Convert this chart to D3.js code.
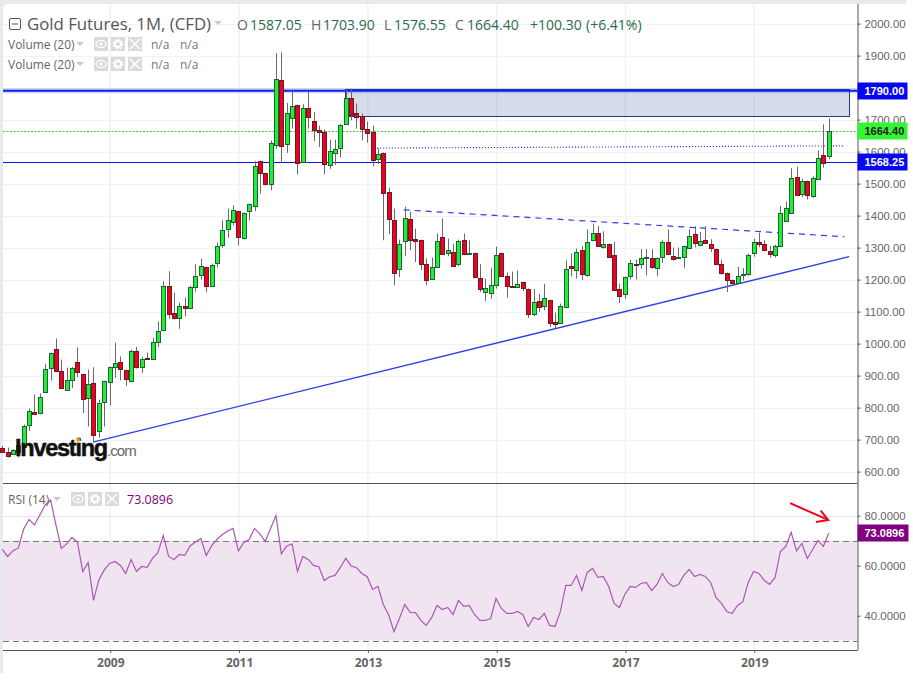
<!DOCTYPE html>
<html>
<head>
<meta charset="utf-8">
<script src="https://cdnjs.cloudflare.com/ajax/libs/d3/7.8.5/d3.min.js"></script>
<style>
  html, body { margin: 0; background: #fff; }
  svg { display: block; }
  .price-axis text, .rsi-axis text { font: 11.4px "Liberation Sans", Arial, sans-serif; fill: #666; }
  .time-axis text { font: bold 12px "Open Sans", sans-serif; fill: #666; }
  .price-axis path, .price-axis line, .rsi-axis path, .rsi-axis line, .time-axis path, .time-axis line { stroke: #555; }
  .legend { font-family: "Open Sans", sans-serif; }
</style>
</head>
<body>
<svg id="chart" width="913" height="681"></svg>
<script>
// monthly candles, first one is May 2007 (month 4, counted from Jan 2007)
const firstMonth = 4;
const opens = [
  675, 662, 656, 661, 677, 746, 785, 783, 849, 925,
  984, 914, 855, 887, 944, 906, 831, 878, 728, 819,
  881, 928, 944, 919, 884, 978, 928, 954, 953, 1006,
  1044, 1181, 1097, 1081, 1119, 1112, 1178, 1215, 1240, 1181,
  1253, 1309, 1358, 1383, 1415, 1331, 1414, 1431, 1572, 1534,
  1499, 1622, 1825, 1625, 1706, 1747, 1567, 1737, 1697, 1668,
  1661, 1558, 1596, 1611, 1687, 1766, 1722, 1712, 1672, 1661,
  1577, 1597, 1475, 1387, 1234, 1322, 1390, 1328, 1325, 1250,
  1202, 1240, 1334, 1284, 1287, 1250, 1325, 1283, 1284, 1206,
  1164, 1159, 1184, 1284, 1212, 1181, 1178, 1191, 1172, 1094,
  1134, 1115, 1137, 1066, 1062, 1116, 1241, 1231, 1291, 1216,
  1325, 1347, 1303, 1312, 1278, 1172, 1156, 1212, 1248, 1247,
  1269, 1269, 1234, 1269, 1319, 1275, 1270, 1272, 1300, 1344,
  1309, 1325, 1312, 1297, 1249, 1222, 1200, 1190, 1216, 1219,
  1284, 1319, 1312, 1290, 1278, 1306, 1384, 1409, 1522, 1469,
  1509, 1462, 1516, 1590, 1587.05
];
const highs = [
  680, 675, 670, 685, 747, 797, 841, 844, 937, 972,
  1016, 950, 925, 927, 988, 906, 919, 926, 825, 884,
  928, 1003, 960, 919, 981, 990, 959, 972, 1019, 1069,
  1195, 1226, 1159, 1128, 1144, 1181, 1248, 1265, 1240, 1250,
  1316, 1385, 1422, 1432, 1415, 1409, 1437, 1571, 1572, 1534,
  1635, 1908, 1910, 1752, 1795, 1747, 1748, 1788, 1723, 1681,
  1669, 1637, 1637, 1687, 1797, 1797, 1750, 1719, 1694, 1681,
  1611, 1597, 1487, 1422, 1325, 1428, 1412, 1359, 1325, 1266,
  1269, 1344, 1391, 1328, 1312, 1325, 1344, 1323, 1284, 1248,
  1203, 1237, 1303, 1284, 1222, 1225, 1228, 1194, 1172, 1170,
  1156, 1187, 1137, 1097, 1125, 1260, 1282, 1297, 1305, 1357,
  1375, 1367, 1351, 1312, 1318, 1187, 1209, 1262, 1262, 1295,
  1295, 1295, 1269, 1323, 1357, 1300, 1300, 1306, 1357, 1367,
  1349, 1367, 1326, 1297, 1263, 1222, 1200, 1240, 1236, 1281,
  1328, 1347, 1323, 1306, 1309, 1431, 1444, 1548, 1553, 1515,
  1509, 1523, 1604, 1685, 1703.9
];
const lows = [
  660, 644, 652, 645, 677, 727, 780, 779, 849, 885,
  915, 859, 852, 861, 896, 783, 741, 692, 706, 741,
  807, 893, 885, 868, 884, 922, 908, 952, 953, 989,
  1044, 1078, 1075, 1046, 1085, 1112, 1162, 1200, 1161, 1178,
  1238, 1300, 1331, 1370, 1307, 1325, 1385, 1414, 1469, 1494,
  1479, 1609, 1565, 1596, 1672, 1528, 1567, 1672, 1633, 1614,
  1529, 1546, 1558, 1582, 1687, 1698, 1672, 1635, 1628, 1554,
  1561, 1323, 1342, 1182, 1208, 1273, 1292, 1255, 1229, 1182,
  1202, 1240, 1281, 1273, 1244, 1242, 1281, 1281, 1206, 1161,
  1133, 1140, 1172, 1212, 1144, 1179, 1175, 1164, 1080, 1086,
  1099, 1104, 1052, 1049, 1062, 1116, 1210, 1203, 1199, 1209,
  1319, 1303, 1297, 1269, 1169, 1127, 1140, 1200, 1200, 1234,
  1213, 1234, 1211, 1252, 1278, 1260, 1268, 1236, 1300, 1301,
  1305, 1313, 1286, 1245, 1216, 1161, 1184, 1187, 1197, 1212,
  1272, 1301, 1291, 1269, 1269, 1306, 1384, 1409, 1465, 1458,
  1450, 1456, 1516, 1550, 1576.55
];
const closes = [
  662, 649, 668, 682, 743, 790, 780, 834, 922, 972,
  915, 862, 887, 924, 912, 828, 875, 715, 815, 884,
  928, 940, 922, 890, 978, 928, 953, 952, 1006, 1040,
  1181, 1094, 1081, 1119, 1112, 1178, 1212, 1244, 1181, 1247,
  1306, 1356, 1385, 1419, 1333, 1409, 1437, 1556, 1534, 1499,
  1628, 1828, 1618, 1722, 1744, 1565, 1737, 1708, 1668, 1661,
  1561, 1603, 1609, 1684, 1769, 1714, 1709, 1672, 1659, 1574,
  1594, 1472, 1390, 1222, 1312, 1394, 1325, 1322, 1250, 1200,
  1240, 1322, 1281, 1294, 1244, 1322, 1281, 1284, 1209, 1172,
  1175, 1184, 1278, 1212, 1181, 1179, 1187, 1172, 1093, 1130,
  1115, 1141, 1066, 1059, 1116, 1234, 1234, 1287, 1216, 1319,
  1347, 1306, 1312, 1272, 1169, 1150, 1209, 1253, 1247, 1266,
  1272, 1240, 1266, 1316, 1281, 1265, 1272, 1306, 1337, 1316,
  1322, 1316, 1300, 1249, 1222, 1200, 1190, 1212, 1219, 1278,
  1319, 1312, 1294, 1281, 1306, 1409, 1425, 1519, 1465, 1509,
  1465, 1519, 1581, 1564.1, 1664.4
];
const rsiValues = [
  66.5, 63.7, 66.0, 67.1, 74.7, 78.5, 76.3, 80.3, 84.3, 86.3,
  76.3, 66.9, 68.7, 71.3, 69.5, 57.7, 61.3, 46.1, 54.3, 58.3,
  60.9, 61.7, 60.1, 56.9, 62.5, 57.7, 59.7, 59.3, 62.9, 65.2,
  72.1, 63.7, 62.5, 64.5, 64.1, 67.9, 69.5, 70.9, 64.1, 67.9,
  70.5, 72.5, 73.9, 74.9, 65.9, 69.3, 70.5, 74.9, 72.7, 69.7,
  74.9, 80.1, 64.7, 67.9, 68.7, 57.7, 63.7, 62.5, 60.1, 59.6,
  54.1, 55.6, 56.1, 59.3, 62.9, 59.9, 59.2, 56.9, 55.6, 50.5,
  51.7, 44.5, 40.3, 33.6, 38.9, 44.5, 41.3, 41.2, 38.1, 36.1,
  39.2, 44.1, 42.5, 43.3, 40.5, 46.1, 43.7, 44.1, 40.5, 38.1,
  38.1, 38.9, 46.9, 42.9, 40.9, 40.9, 41.7, 40.5, 35.7, 39.3,
  38.5, 40.9, 36.1, 35.7, 41.7, 52.1, 52.1, 56.1, 50.1, 57.3,
  58.9, 55.3, 55.7, 51.7, 44.9, 43.3, 48.5, 51.7, 51.3, 52.9,
  53.3, 50.1, 52.5, 56.9, 53.3, 51.7, 52.5, 56.1, 58.5, 55.7,
  56.5, 55.7, 53.3, 47.3, 44.9, 41.7, 40.9, 44.1, 45.6, 53.3,
  57.7, 56.9, 54.1, 52.5, 55.3, 65.7, 67.7, 73.3, 65.9, 68.9,
  62.9, 66.5, 70.1, 67.7, 73.0896
];

const priceTicks = [2000, 1900, 1700, 1600, 1500, 1400, 1300, 1200, 1100, 1000, 900, 800, 700, 600];
const priceGrid = [2000, 1900, 1800, 1700, 1600, 1500, 1400, 1300, 1200, 1100, 1000, 900, 800, 700, 600];
const rsiTicks = [80, 60, 40];
const rsiBand = [30, 70];
const yearMonths = [24, 48, 72, 96, 120, 144];
const yearLabels = ['2009', '2011', '2013', '2015', '2017', '2019'];

// drawings on the chart, [month, price]
const support = [[20.9, 692], [161.8, 1272]];
const neckline = [[78.8, 1418], [160.9, 1334]];
const dotted = [[73.8, 1611], [160.8, 1618]];
const zoneMonths = [67.9, 161.9];
const zonePrices = [1712, 1797];
const priceTags = [1790, 1664.4, 1568.25];
const arrowShaft = [[150.8, 85], [157.9, 78.3]];
const arrowHead = [[156.5, 82], [157.9, 78.3], [155.6, 77.5]];

const axisX = 857.5;
const x = d3.scaleLinear().domain([24, 144]).range([110.3, 754.3]);
const y = d3.scaleLinear().domain([600, 2000]).range([471.6, 23.6]);
const yRsi = d3.scaleLinear().domain([30, 80]).range([640.7, 515.7]);
const px = m => x(m) - 0.7;
const crisp = v => Math.round(v) + 0.5;

const svg = d3.select('#chart');

// frame
svg.append('rect').attr('width', 913).attr('height', 681).attr('fill', '#fff');
svg.append('path').attr('fill', '#e8ebee')
  .attr('d', 'M0,0H906V4H8Q3,4 3,9V673H0Z');

// grid
const grid = svg.append('g').attr('stroke', '#f0f2f4');
grid.selectAll('line.h').data(priceGrid).join('line').attr('class', 'h')
  .attr('x1', 3).attr('x2', axisX)
  .attr('y1', d => crisp(y(d))).attr('y2', d => crisp(y(d)));
grid.selectAll('line.v').data(yearMonths).join('line').attr('class', 'v')
  .attr('x1', d => x(d)).attr('x2', d => x(d))
  .attr('y1', 4).attr('y2', 650).attr('stroke-width', 1.5);

// rsi band
svg.append('rect')
  .attr('x', 3).attr('width', axisX - 3)
  .attr('y', yRsi(rsiBand[1])).attr('height', yRsi(rsiBand[0]) - yRsi(rsiBand[1]))
  .attr('fill', '#f0e4f1');
svg.append('g').attr('stroke', '#ebe3ec').selectAll('line').data(rsiTicks).join('line')
  .attr('x1', 3).attr('x2', axisX)
  .attr('y1', d => crisp(yRsi(d))).attr('y2', d => crisp(yRsi(d)));
svg.append('g').attr('stroke', '#7d7380').attr('stroke-dasharray', '6,4')
  .selectAll('line').data(rsiBand).join('line')
  .attr('x1', 3).attr('x2', axisX)
  .attr('y1', d => crisp(yRsi(d))).attr('y2', d => crisp(yRsi(d)));

// zone + levels
svg.append('rect')
  .attr('x', crisp(px(zoneMonths[0]))).attr('width', Math.round(px(zoneMonths[1]) - px(zoneMonths[0])))
  .attr('y', crisp(y(zonePrices[1]))).attr('height', Math.round(y(zonePrices[0]) - y(zonePrices[1])))
  .attr('fill', 'rgba(40,70,150,0.19)').attr('stroke', '#1c3a8c');

svg.append('line').attr('x1', 3).attr('x2', axisX).attr('y1', y(1790)).attr('y2', y(1790))
  .attr('stroke', '#2030ff').attr('stroke-opacity', 0.2).attr('stroke-width', 5);
svg.append('line').attr('x1', 3).attr('x2', axisX).attr('y1', y(1790)).attr('y2', y(1790))
  .attr('stroke', '#1020e8').attr('stroke-width', 2);
svg.append('line').attr('x1', 3).attr('x2', axisX)
  .attr('y1', crisp(y(1664.4))).attr('y2', crisp(y(1664.4)))
  .attr('stroke', '#35d035').attr('stroke-dasharray', '2,1.5');
svg.append('line').attr('x1', 3).attr('x2', axisX)
  .attr('y1', crisp(y(1568.25))).attr('y2', crisp(y(1568.25)))
  .attr('stroke', '#0a14f0');

const priceLine = d3.line().x(d => px(d[0])).y(d => y(d[1]));
svg.append('path').attr('d', priceLine(support)).attr('fill', 'none')
  .attr('stroke', '#2f3fe8').attr('stroke-width', 1.4);
svg.append('path').attr('d', priceLine(neckline)).attr('fill', 'none')
  .attr('stroke', '#2f3fee').attr('stroke-width', 1.2).attr('stroke-dasharray', '6,5');
svg.append('path').attr('d', priceLine(dotted)).attr('fill', 'none')
  .attr('stroke', '#2f3fe8').attr('stroke-width', 1.1).attr('stroke-dasharray', '1.2,1.8');

// candles
const candles = opens.map((o, i) => ({
  month: firstMonth + i, o, h: highs[i], l: lows[i], c: closes[i]
}));
const candleG = svg.append('g').selectAll('g').data(candles).join('g')
  .attr('transform', d => `translate(${crisp(px(d.month))},0)`);
candleG.append('line')
  .attr('y1', d => y(d.h)).attr('y2', d => y(d.l))
  .attr('stroke', '#6a6a6a');
candleG.append('rect')
  .attr('x', -2).attr('width', 4)
  .attr('y', d => crisp(y(Math.max(d.o, d.c))))
  .attr('height', d => Math.max(1, Math.round(Math.abs(y(d.o) - y(d.c)))))
  .attr('fill', d => d.c >= d.o ? '#22ee33' : '#ee0022')
  .attr('stroke', d => d.c >= d.o ? '#1d6238' : '#6b1c22');

// rsi line
svg.append('path')
  .attr('d', d3.line().x((d, i) => px(firstMonth + i)).y(d => yRsi(d))(rsiValues))
  .attr('fill', 'none').attr('stroke', '#ab58b5').attr('stroke-width', 1.2);

// red arrow
const rsiLine = d3.line().x(d => px(d[0])).y(d => yRsi(d[1]));
svg.append('path').attr('d', rsiLine(arrowShaft)).attr('fill', 'none')
  .attr('stroke', '#f5001e').attr('stroke-width', 2);
svg.append('path').attr('d', rsiLine(arrowHead)).attr('fill', 'none')
  .attr('stroke', '#f5001e').attr('stroke-width', 2);

// pane borders + axes
svg.append('line').attr('x1', 3).attr('x2', axisX).attr('y1', 483.5).attr('y2', 483.5).attr('stroke', '#555');

svg.append('g').attr('class', 'price-axis')
  .attr('transform', `translate(${axisX},0)`)
  .call(d3.axisRight(y).tickValues(priceTicks).tickSize(3).tickPadding(4).tickFormat(d3.format('.2f')))
  .call(g => g.select('.domain').attr('d', 'M0.5,4V483'));

svg.append('g').attr('class', 'rsi-axis')
  .attr('transform', `translate(${axisX},0)`)
  .call(d3.axisRight(yRsi).tickValues(rsiTicks).tickSize(3).tickPadding(4).tickFormat(d3.format('.4f')))
  .call(g => g.select('.domain').attr('d', 'M0.5,483V650.5'));

svg.append('g').attr('class', 'time-axis')
  .attr('transform', 'translate(0,650)')
  .call(d3.axisBottom(x).tickValues(yearMonths).tickSize(3).tickPadding(5)
    .tickFormat((d, i) => yearLabels[i]))
  .call(g => g.select('.domain').attr('d', `M3,0.5H${axisX}`));

// logo
const logo = svg.append('text').attr('x', 15).attr('y', 456).attr('font-family', 'Liberation Sans');
logo.append('tspan')
  .attr('font-weight', 'bold').attr('font-size', 23.5).attr('letter-spacing', -1.25)
  .attr('fill', '#111').attr('stroke', '#111').attr('stroke-width', 0.5).text('Investing');
logo.append('tspan')
  .attr('font-size', 15).attr('letter-spacing', -0.9).attr('fill', '#666').text('.com');
svg.append('circle').attr('cx', 78).attr('cy', 440).attr('r', 2).attr('fill', '#f5a623');

// price tags
const tagStyle = {
  1790: ['#0808f0', '#fff'],
  1664.4: ['#33f533', '#222'],
  1568.25: ['#0808f0', '#fff']
};
const tags = svg.append('g').selectAll('g').data(priceTags).join('g')
  .attr('transform', d => `translate(${axisX},${Math.round(y(d))})`);
tags.append('rect').attr('x', 0).attr('y', -8.5).attr('width', 50).attr('height', 17)
  .attr('fill', d => tagStyle[d][0]);
tags.append('text').attr('x', 7).attr('y', 4)
  .attr('font-family', 'Liberation Sans').attr('font-size', 11).attr('font-weight', 'bold')
  .attr('fill', d => tagStyle[d][1]).text(d => d3.format('.2f')(d));

const rsiTag = svg.append('g').attr('transform', `translate(${axisX},${Math.round(yRsi(rsiValues[rsiValues.length - 1]))})`);
rsiTag.append('rect').attr('y', -8.5).attr('width', 51).attr('height', 17).attr('fill', '#800080');
rsiTag.append('text').attr('x', 7).attr('y', 4)
  .attr('font-family', 'Liberation Sans').attr('font-size', 11).attr('font-weight', 'bold')
  .attr('fill', '#fff').text('73.0896');

// legend helpers
const legend = svg.append('g').attr('class', 'legend');
function caret(cx, cy) {
  legend.append('path').attr('d', `M${cx - 4},${cy - 2}h8l-4,4z`).attr('fill', '#c9c9c9');
}
function iconRow(left, top) {
  const boxes = [0, 17, 34];
  legend.selectAll(null).data(boxes).join('rect')
    .attr('x', d => left + d).attr('y', top).attr('width', 14).attr('height', 14).attr('fill', '#dadada');
  legend.append('ellipse').attr('cx', left + 7).attr('cy', top + 7).attr('rx', 5).attr('ry', 3.6)
    .attr('fill', 'none').attr('stroke', '#fff').attr('stroke-width', 1.3);
  legend.append('circle').attr('cx', left + 7).attr('cy', top + 7).attr('r', 1.6).attr('fill', '#fff');
  legend.append('circle').attr('cx', left + 24).attr('cy', top + 7).attr('r', 3)
    .attr('fill', 'none').attr('stroke', '#fff').attr('stroke-width', 2);
  legend.append('circle').attr('cx', left + 24).attr('cy', top + 7).attr('r', 4.6)
    .attr('fill', 'none').attr('stroke', '#fff').attr('stroke-width', 1.6).attr('stroke-dasharray', '1.8,1.8');
  legend.append('path').attr('d', `M${left + 36},${top + 2}l10,10M${left + 46},${top + 2}l-10,10`)
    .attr('stroke', '#fff').attr('stroke-width', 1.5);
}
function label(text, lx, ly, size, color) {
  legend.append('text').attr('x', lx).attr('y', ly).attr('font-size', size).attr('fill', color).text(text);
}

// title row
legend.append('rect').attr('x', 9.5).attr('y', 18.5).attr('width', 11).attr('height', 11).attr('rx', 1.5)
  .attr('fill', '#fff').attr('stroke', '#555');
legend.append('line').attr('x1', 12).attr('x2', 18).attr('y1', 24).attr('y2', 24).attr('stroke', '#555');
label('Gold Futures, 1M, (CFD)', 27, 29.5, 16.8, '#555');
caret(218, 23);

const ohlcGreen = '#2a6a4e';
label('O', 237, 29.5, 14, '#666');
label('1587.05', 250, 29.5, 14, ohlcGreen);
label('H', 311, 29.5, 14, '#666');
label('1703.90', 323, 29.5, 14, ohlcGreen);
label('L', 384, 29.5, 14, '#666');
label('1576.55', 394, 29.5, 14, ohlcGreen);
label('C', 455, 29.5, 14, '#666');
label('1664.40', 467, 29.5, 14, ohlcGreen);
label('+100.30', 530, 29.5, 14, ohlcGreen);
label('(+6.41%)', 586, 29.5, 14, ohlcGreen);

// volume rows
[49, 69].forEach(ly => {
  label('Volume (20)', 8, ly, 12, '#666');
  caret(80, ly - 5);
  iconRow(94, ly - 12);
  label('n/a', 151, ly, 12, '#777');
  label('n/a', 180, ly, 12, '#777');
});

// rsi legend
label('RSI (14)', 8, 503.5, 12, '#666');
caret(57, 499);
iconRow(71, 492);
label('73.0896', 127, 503.5, 12.5, '#800080');
</script>
</body>
</html>
